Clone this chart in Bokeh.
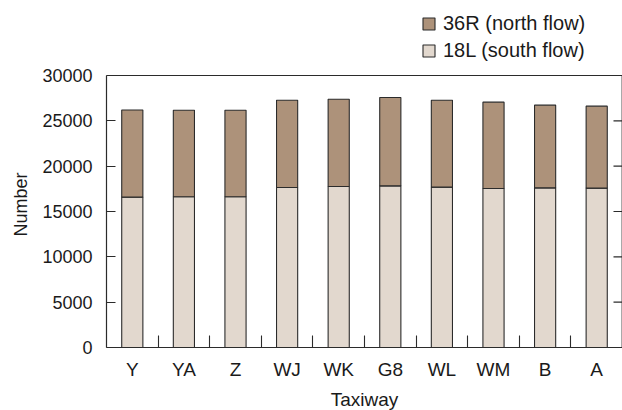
from bokeh.plotting import figure
from bokeh.models import (Range1d, FixedTicker, Legend, LegendItem, Span, Title,
                          ColumnDataSource)
from bokeh.embed import file_html
from bokeh.resources import INLINE

taxiways = ["Y", "YA", "Z", "WJ", "WK", "G8", "WL", "WM", "B", "A"]
south_18L = [16580, 16620, 16620, 17650, 17760, 17830, 17690, 17540, 17610, 17580]
north_36R = [9620, 9550, 9550, 9620, 9620, 9740, 9580, 9520, 9120, 9040]
y_ticks = [0, 5000, 10000, 15000, 20000, 25000, 30000]

FONT = "Liberation Sans"
C_NORTH = "#ad927a"
C_SOUTH = "#e2d8ce"
C_LINE = "#2b2b2b"
TXT = "#1a1a1a"

Y_MAX = y_ticks[-1]
FRAME_W, FRAME_H, PLOT_H = 516, 347, 272   # PLOT_H: pixels for 0..Y_MAX
y_top = Y_MAX * FRAME_H / PLOT_H             # extra room above for the legend

xpos = list(range(1, len(taxiways) + 1))
x_end = len(taxiways) + 0.5
src = ColumnDataSource(dict(x=xpos, south=south_18L, north=north_36R))

p = figure(frame_width=FRAME_W, frame_height=FRAME_H,
           output_backend="svg", toolbar_location=None,
           x_range=Range1d(0.5, x_end), y_range=Range1d(0, y_top),
           min_border_left=105, min_border_right=1, min_border_top=0,
           min_border_bottom=63)
p.grid.visible = False
p.outline_line_color = None
p.background_fill_color = "white"

rs = p.vbar_stack(["south", "north"], x="x", width=0.41, source=src,
                  fill_color=[C_SOUTH, C_NORTH], line_color=C_LINE, line_width=1.1)

# top border of the plotting box
p.add_layout(Span(location=Y_MAX, dimension="width", line_color=C_LINE, line_width=1.2))
# right border + inward ticks
tick_len = 9 * (x_end - 0.5) / FRAME_W
p.segment(x0=[x_end], y0=[0], x1=[x_end], y1=[Y_MAX], line_color="#555555", line_width=2)
p.segment(x0=[x_end] * len(y_ticks), y0=y_ticks,
          x1=[x_end - tick_len] * len(y_ticks), y1=y_ticks,
          line_color=C_LINE, line_width=1.1)

# x axis
xa = p.xaxis[0]
xa.ticker = FixedTicker(ticks=xpos, minor_ticks=[i + 0.5 for i in xpos[:-1]])
xa.major_label_overrides = {i: t for i, t in zip(xpos, taxiways)}
xa.major_tick_line_color = None
xa.minor_tick_in = 12
xa.minor_tick_out = 0
xa.minor_tick_line_color = C_LINE
xa.minor_tick_line_width = 1.1
xa.axis_line_color = C_LINE
xa.axis_line_width = 1.2
xa.major_label_text_font = FONT
xa.major_label_text_font_size = "19px"
xa.major_label_text_color = TXT
xa.major_label_standoff = 5
xa.axis_label = "Taxiway"
xa.axis_label_text_font = FONT
xa.axis_label_text_font_size = "19px"
xa.axis_label_text_font_style = "normal"
xa.axis_label_text_color = TXT
xa.axis_label_standoff = 6

# y axis
ya = p.yaxis[0]
ya.bounds = (0, Y_MAX)
ya.ticker = FixedTicker(ticks=y_ticks, minor_ticks=[])
ya.major_tick_in = 9
ya.major_tick_out = 0
ya.major_tick_line_color = C_LINE
ya.major_tick_line_width = 1.1
ya.axis_line_color = C_LINE
ya.axis_line_width = 1.2
ya.major_label_text_font = FONT
ya.major_label_text_font_size = "18px"
ya.major_label_text_color = TXT
ya.major_label_standoff = 14

# y axis title, placed along the 0..Y_MAX part only
p.add_layout(Title(text="Number", align="left", offset=111, text_font=FONT,
                   text_font_size="18px", text_font_style="normal",
                   text_color=TXT, standoff=17), "left")

legend = Legend(items=[LegendItem(label="36R (north flow)", renderers=[rs[1]]),
                       LegendItem(label="18L (south flow)", renderers=[rs[0]])],
                location=(315, 285), orientation="vertical",
                glyph_width=15, glyph_height=15, label_standoff=7,
                label_text_font=FONT, label_text_font_size="20px",
                label_text_color=TXT, label_height=20,
                spacing=4, padding=3, margin=0,
                border_line_color=None, background_fill_alpha=0)
p.add_layout(legend, "center")

open("out.html", "w").write(file_html(p, INLINE))
